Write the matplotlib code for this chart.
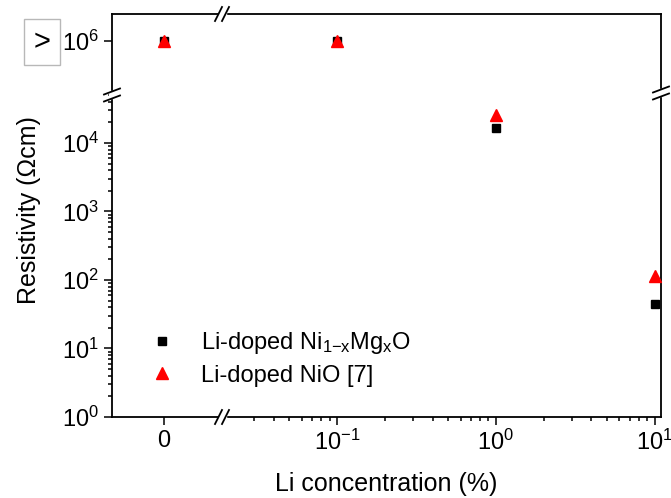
import matplotlib
matplotlib.use("Agg")
import matplotlib.pyplot as plt
from matplotlib.ticker import FixedLocator, NullLocator, LogLocator, NullFormatter
from matplotlib.lines import Line2D
from matplotlib.patches import Rectangle

# Data (the 1e6 points are lower bounds, ">")
li_conc = [0, 0.1, 1, 10]
rho_nimgo = [1e6, 1e6, 1.65e4, 45]
rho_nio = [1e6, 1e6, 2.6e4, 115]
series_labels = [r"Li-doped Ni$_{1\mathrm{-}x}$Mg$_x$O", "Li-doped NiO [7]"]

plt.rcParams["font.family"] = ["Liberation Sans", "DejaVu Sans"]
plt.rcParams["mathtext.fontset"] = "custom"
plt.rcParams["mathtext.rm"] = "Liberation Sans"
plt.rcParams["mathtext.it"] = "Liberation Sans"
plt.rcParams["mathtext.default"] = "regular"

W, H = 671, 498
fig = plt.figure(figsize=(W / 100, H / 100), dpi=100)


def fx(px):
    return px / W


def fy(py):
    return 1 - py / H


# axes frame in pixels (left, right, top, bottom) and break positions
L, R, T, B = 112, 661, 14, 417
XB, YB = 222, 95

ax_bl = fig.add_axes([fx(L), fy(B), fx(XB) - fx(L), fy(YB) - fy(B)])
ax_br = fig.add_axes([fx(XB), fy(B), fx(R) - fx(XB), fy(YB) - fy(B)])
ax_tl = fig.add_axes([fx(L), fy(YB), fx(XB) - fx(L), fy(T) - fy(YB)])
ax_tr = fig.add_axes([fx(XB), fy(YB), fx(R) - fx(XB), fy(T) - fy(YB)])
axes = [ax_bl, ax_br, ax_tl, ax_tr]

for ax in axes:
    ax.set_yscale("log")
    for s in ax.spines.values():
        s.set_linewidth(1.3)
        s.set_visible(False)
    ax.tick_params(which="both", direction="out", width=1.1, labelsize=17,
                   left=False, bottom=False, right=False, top=False,
                   labelleft=False, labelbottom=False)
    ax.tick_params(which="major", length=5.5, pad=4)
    ax.tick_params(which="minor", length=3)
    ax.set_facecolor("none")

for ax in [ax_br, ax_tr]:
    ax.set_xscale("log")
    ax.set_xlim(10 ** -1.723, 10 ** 1.04)
for ax in [ax_bl, ax_tl]:
    ax.set_xlim(-1, 1.12)
for ax in [ax_bl, ax_br]:
    ax.set_ylim(1, 10 ** 4.70)
for ax in [ax_tl, ax_tr]:
    ax.set_ylim(10 ** 5.21, 10 ** 6.39)
    ax.yaxis.set_minor_locator(NullLocator())

# visible spines
ax_bl.spines["left"].set_visible(True)
ax_bl.spines["bottom"].set_visible(True)
ax_br.spines["bottom"].set_visible(True)
ax_br.spines["right"].set_visible(True)
ax_tl.spines["left"].set_visible(True)
ax_tl.spines["top"].set_visible(True)
ax_tr.spines["top"].set_visible(True)
ax_tr.spines["right"].set_visible(True)

# ticks
ax_bl.tick_params(which="both", left=True, labelleft=True, bottom=True, labelbottom=True)
ax_bl.xaxis.set_major_locator(FixedLocator([0]))
ax_bl.xaxis.set_minor_locator(NullLocator())
ax_bl.yaxis.set_major_locator(LogLocator(base=10, numticks=10))
ax_bl.yaxis.set_minor_locator(LogLocator(base=10, subs=range(2, 10), numticks=10))
ax_bl.yaxis.set_minor_formatter(NullFormatter())
ax_br.tick_params(which="both", bottom=True, labelbottom=True)
ax_br.xaxis.set_minor_formatter(NullFormatter())
ax_tl.tick_params(which="major", left=True, labelleft=True)
ax_tl.yaxis.set_major_locator(FixedLocator([1e6]))

# data: column by x (0 -> left panel), row by y (>=1e5 -> top panel)
handles = []
for vals, mk, col, ms in [(rho_nimgo, "s", "black", 6), (rho_nio, "^", "red", 8.5)]:
    h = None
    for x, y in zip(li_conc, vals):
        ax = (ax_tl if y >= 1e5 else ax_bl) if x == 0 else (ax_tr if y >= 1e5 else ax_br)
        line, = ax.plot([x], [y], linestyle="none", marker=mk, color=col,
                        markersize=ms, clip_on=False, zorder=3)
        h = h or line
    handles.append(h)

# axis break marks
def brk(cx, cy, vertical):
    g = 3.5
    if vertical:
        fig.add_artist(Rectangle((fx(cx - 3), fy(cy + g)), fx(6), fy(0) - fy(2 * g),
                                 color="white", transform=fig.transFigure, zorder=5))
        for o in (-g, g):
            fig.add_artist(Line2D([fx(cx - 8), fx(cx + 8)], [fy(cy + o + 3), fy(cy + o - 3)],
                                  color="black", lw=1.3, transform=fig.transFigure, zorder=6))
    else:
        fig.add_artist(Rectangle((fx(cx - g), fy(cy + 3)), fx(2 * g), fy(0) - fy(6),
                                 color="white", transform=fig.transFigure, zorder=5))
        for o in (-g, g):
            fig.add_artist(Line2D([fx(cx + o - 3.5), fx(cx + o + 3.5)], [fy(cy + 7), fy(cy - 7)],
                                  color="black", lw=1.3, transform=fig.transFigure, zorder=6))


brk(XB, B, False)
brk(XB, T, False)
brk(L, YB, True)
brk(R, YB - 2, True)

# labels
fig.text(fx((L + R) / 2), fy(484), "Li concentration (%)", ha="center", va="center", fontsize=18)
fig.text(fx(29), fy(210), "Resistivity (\u03a9cm)", ha="center", va="center",
         rotation=90, fontsize=18)
fig.text(fx(42), fy(42), ">", ha="center", va="center", fontsize=21,
         bbox=dict(boxstyle="square,pad=0.32", facecolor="white", edgecolor="#b8b8b8", lw=1))

fig.legend(handles, series_labels, loc="upper left", bbox_to_anchor=(fx(142), fy(321)),
           frameon=False, fontsize=17, handlelength=0.9, handletextpad=1.2,
           labelspacing=0.35, borderaxespad=0)

fig.savefig("out.png", dpi=100)
